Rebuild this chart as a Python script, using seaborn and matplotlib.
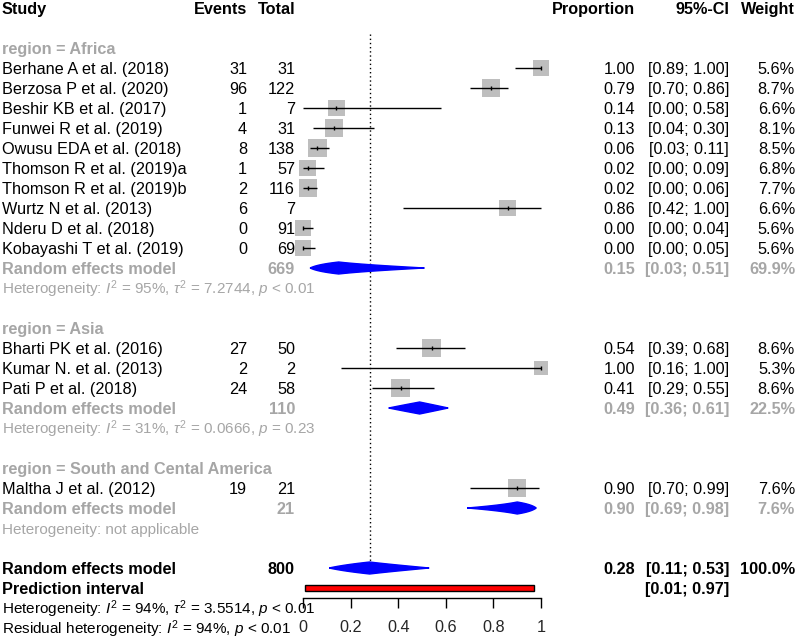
import numpy as np
import pandas as pd
import matplotlib
matplotlib.use("Agg")
import matplotlib.pyplot as plt
import seaborn as sns
from matplotlib.patches import Rectangle
from matplotlib.transforms import blended_transform_factory

# ---- data ----
studies = [
    "Berhane A et al. (2018)", "Berzosa P et al. (2020)", "Beshir KB et al. (2017)",
    "Funwei R et al. (2019)", "Owusu EDA et al. (2018)", "Thomson R et al. (2019)a",
    "Thomson R et al. (2019)b", "Wurtz N et al. (2013)", "Nderu D et al. (2018)",
    "Kobayashi T et al. (2019)",
    "Bharti PK et al. (2016)", "Kumar N. et al. (2013)", "Pati P et al. (2018)",
    "Maltha J et al. (2012)",
]
regions = ["Africa"] * 10 + ["Asia"] * 3 + ["South and Cental America"]
events = [31, 96, 1, 4, 8, 1, 2, 6, 0, 0, 27, 2, 24, 19]
totals = [31, 122, 7, 31, 138, 57, 116, 7, 91, 69, 50, 2, 58, 21]
props = [1.00, 0.79, 0.14, 0.13, 0.06, 0.02, 0.02, 0.86, 0.00, 0.00, 0.54, 1.00, 0.41, 0.90]
ci_low = [0.89, 0.70, 0.00, 0.04, 0.03, 0.00, 0.00, 0.42, 0.00, 0.00, 0.39, 0.16, 0.29, 0.70]
ci_high = [1.00, 0.86, 0.58, 0.30, 0.11, 0.09, 0.06, 1.00, 0.04, 0.05, 0.68, 1.00, 0.55, 0.99]
weights = [5.6, 8.7, 6.6, 8.1, 8.5, 6.8, 7.7, 6.6, 5.6, 5.6, 8.6, 5.3, 8.6, 7.6]

group_names = ["Africa", "Asia", "South and Cental America"]
group_totals = [669, 110, 21]
group_prop = [0.15, 0.49, 0.90]
group_low = [0.03, 0.36, 0.69]
group_high = [0.51, 0.61, 0.98]
group_weight = [69.9, 22.5, 7.6]
group_het = [
    r"Heterogeneity: $I^2$ = 95%, $\tau^2$ = 7.2744, $p$ < 0.01",
    r"Heterogeneity: $I^2$ = 31%, $\tau^2$ = 0.0666, $p$ = 0.23",
    "Heterogeneity: not applicable",
]

overall_total = 800
overall_prop, overall_low, overall_high, overall_weight = 0.28, 0.11, 0.53, 100.0
pred_low, pred_high = 0.01, 0.97
overall_het = r"Heterogeneity: $I^2$ = 94%, $\tau^2$ = 3.5514, $p$ < 0.01"
residual_het = r"Residual heterogeneity: $I^2$ = 94%, $p$ < 0.01"

x_ticks = [0, 0.2, 0.4, 0.6, 0.8, 1]
x_tick_labels = ["0", "0.2", "0.4", "0.6", "0.8", "1"]

# ---- style ----
sns.set_theme(style="white")
plt.rcParams["font.family"] = ["Liberation Sans", "DejaVu Sans"]
plt.rcParams["mathtext.fontset"] = "custom"
plt.rcParams["mathtext.rm"] = "Liberation Sans"
plt.rcParams["mathtext.it"] = "Liberation Sans:italic"
plt.rcParams["mathtext.bf"] = "Liberation Sans:bold"

FS = 11.7
FS_HET = 11.0
GREY_TXT = "#A6A6A6"
W, H = 797, 640

fig = plt.figure(figsize=(W / 100, H / 100), dpi=100)
ax = fig.add_axes([303 / W, 0, 238 / W, 1])
ax.patch.set_visible(False)
trans = blended_transform_factory(fig.transFigure, ax.transData)


def put(xpx, row, s, ha="left", bold=False, color="black", size=FS):
    ax.text(xpx / W, row + 0.29, s, transform=trans, ha=ha, va="baseline",
            fontsize=size, fontweight="bold" if bold else "normal",
            color=color, clip_on=False)


def logit(p):
    return np.log(p / (1 - p))


def expit(v):
    return 1 / (1 + np.exp(-v))


def diamond(est, lo, hi, row, h=0.3):
    t = np.linspace(0, 1, 40)
    l_lo, l_est, l_hi = logit(lo), logit(est), logit(hi)
    left = l_lo + (l_est - l_lo) * t
    right = l_est + (l_hi - l_est) * t
    xs = np.concatenate([expit(left), expit(right), expit(right[::-1]), expit(left[::-1])])
    ys = np.concatenate([row - h * t, row - h * (1 - t), row + h * (1 - t[::-1]), row + h * t[::-1]])
    ax.fill(xs, ys, color="#0000FF", lw=1.0, edgecolor="#0000FF", zorder=3, clip_on=False)


# ---- header ----
put(2, 0, "Study", bold=True)
put(247, 0, "Events", ha="right", bold=True)
put(295, 0, "Total", ha="right", bold=True)
put(635, 0, "Proportion", ha="right", bold=True)
put(729, 0, "95%-CI", ha="right", bold=True)
put(795, 0, "Weight", ha="right", bold=True)

# ---- assign rows ----
rows = []
row = 2
group_rows = []
for g in group_names:
    head = row
    idx = [i for i, r in enumerate(regions) if r == g]
    study_rows = list(range(row + 1, row + 1 + len(idx)))
    rows.extend(study_rows)
    re_row = row + 1 + len(idx)
    group_rows.append((head, re_row, re_row + 1))
    row = re_row + 3
overall_row = row
pred_row = overall_row + 1

df = pd.DataFrame({"study": studies, "region": regions, "events": events,
                   "total": totals, "prop": props, "lo": ci_low, "hi": ci_high,
                   "weight": weights, "row": rows})

# study text
for _, r in df.iterrows():
    put(2, r["row"], r["study"])
    put(247, r["row"], str(r["events"]), ha="right")
    put(295, r["row"], str(r["total"]), ha="right")
    put(635, r["row"], f"{r['prop']:.2f}", ha="right")
    put(729, r["row"], f"[{r['lo']:.2f}; {r['hi']:.2f}]", ha="right")
    put(795, r["row"], f"{r['weight']:.1f}%", ha="right")

# CI lines, squares, estimate ticks
ax.hlines(df["row"], df["lo"], df["hi"], color="black", lw=1, zorder=2, clip_on=False)
k = (6.4 * 0.72) ** 2
sns.scatterplot(data=df, x="prop", y="row", size="weight",
                sizes=(k * min(weights), k * max(weights)),
                size_norm=(min(weights), max(weights)),
                marker="s", color="#BEBEBE", linewidth=0, legend=False,
                ax=ax, zorder=1, clip_on=False)
ax.vlines(df["prop"], df["row"] - 0.12, df["row"] + 0.12, color="black", lw=1,
          zorder=3, clip_on=False)

# subgroups
for gi, g in enumerate(group_names):
    head, re_row, het_row = group_rows[gi]
    put(2, head, f"region = {g}", bold=True, color=GREY_TXT)
    put(2, re_row, "Random effects model", bold=True, color=GREY_TXT)
    put(295, re_row, str(group_totals[gi]), ha="right", bold=True, color=GREY_TXT)
    put(635, re_row, f"{group_prop[gi]:.2f}", ha="right", bold=True, color=GREY_TXT)
    put(729, re_row, f"[{group_low[gi]:.2f}; {group_high[gi]:.2f}]", ha="right",
        bold=True, color=GREY_TXT)
    put(795, re_row, f"{group_weight[gi]:.1f}%", ha="right", bold=True, color=GREY_TXT)
    put(2, het_row, group_het[gi], color=GREY_TXT, size=FS_HET)
    diamond(group_prop[gi], group_low[gi], group_high[gi], re_row)

# overall
put(2, overall_row, "Random effects model", bold=True)
put(295, overall_row, str(overall_total), ha="right", bold=True)
put(635, overall_row, f"{overall_prop:.2f}", ha="right", bold=True)
put(729, overall_row, f"[{overall_low:.2f}; {overall_high:.2f}]", ha="right", bold=True)
put(795, overall_row, f"{overall_weight:.1f}%", ha="right", bold=True)
diamond(overall_prop, overall_low, overall_high, overall_row)

put(2, pred_row, "Prediction interval", bold=True)
put(729, pred_row, f"[{pred_low:.2f}; {pred_high:.2f}]", ha="right", bold=True)
ax.add_patch(Rectangle((pred_low, pred_row - 0.15), pred_high - pred_low, 0.3,
                       facecolor="#FF0000", edgecolor="black", lw=1, zorder=3))

put(2, pred_row + 1, overall_het, size=FS_HET)
put(2, pred_row + 2, residual_het, size=FS_HET)

# reference line at pooled estimate
ax.vlines(overall_prop, 1.3, overall_row - 0.3, color="black", lw=1,
          linestyles=(0, (1, 2)), zorder=0)

# axes
ax.set_xlim(0, 1)
ax.set_ylim(H / 20 - 0.4, -0.4)
ax.set_xlabel("")
ax.set_ylabel("")
ax.set_yticks([])
for s in ["top", "left", "right"]:
    ax.spines[s].set_visible(False)
ax.spines["bottom"].set_position(("data", pred_row + 0.5))
ax.spines["bottom"].set_bounds(0, 1)
ax.spines["bottom"].set_color("black")
ax.spines["bottom"].set_linewidth(1)
ax.set_xticks(x_ticks, x_tick_labels)
ax.tick_params(axis="x", direction="out", length=7.2, width=1, color="black",
               pad=9, labelsize=FS, bottom=True)

fig.savefig("out.png", dpi=100)
